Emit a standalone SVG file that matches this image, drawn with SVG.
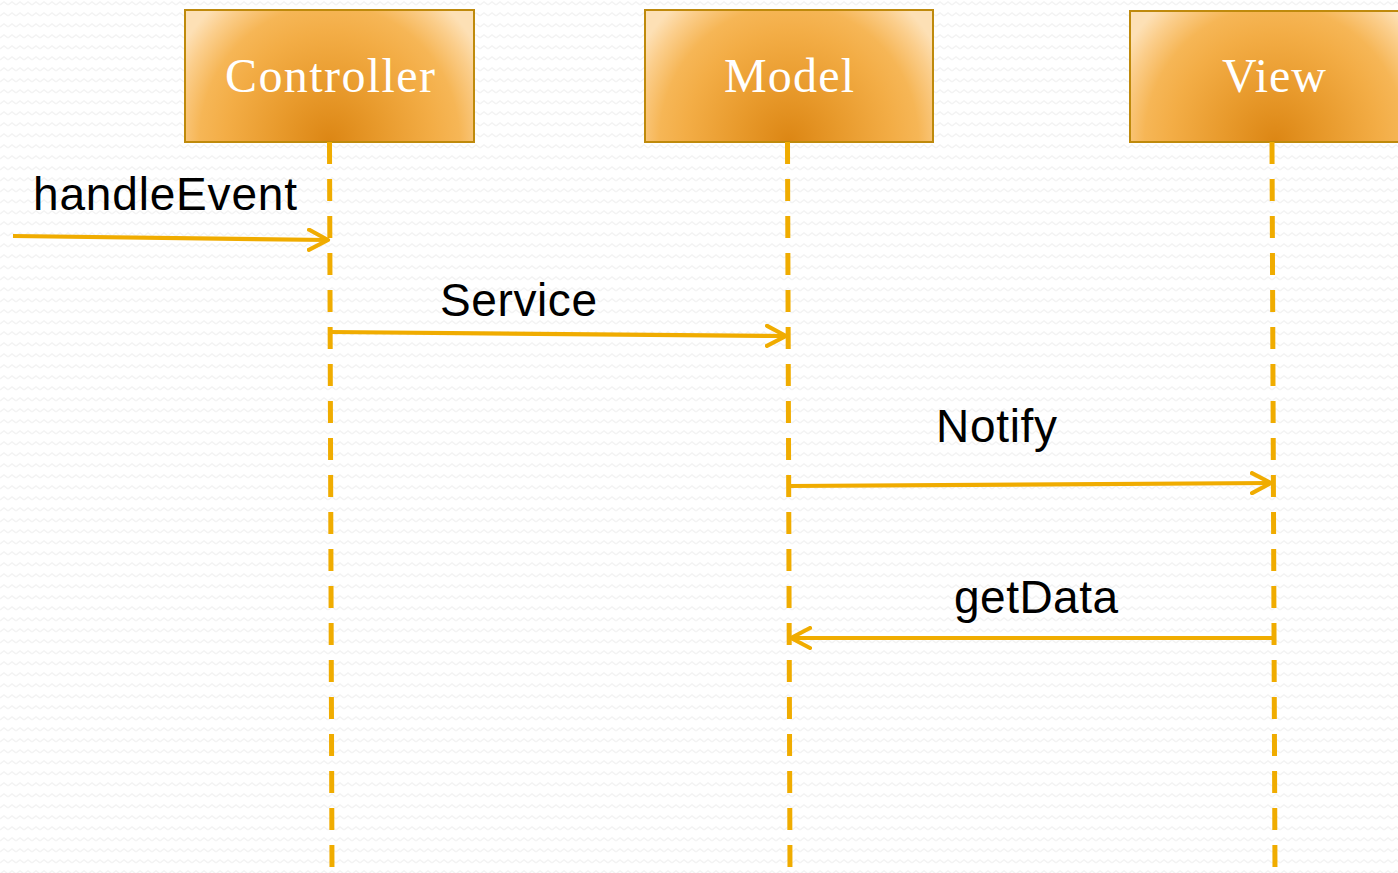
<svg xmlns="http://www.w3.org/2000/svg" width="1398" height="873" viewBox="0 0 1398 873">
  <defs>
    <pattern id="zigzag" width="8" height="11" patternUnits="userSpaceOnUse">
      <path d="M0 5 L4 2 L8 5" fill="none" stroke="#f3f3f3" stroke-width="1.5"/>
    </pattern>
    <!-- warm glow rising from the bottom centre of each header box -->
    <radialGradient id="boxFill" cx="0.5" cy="1" r="0.6" fx="0.5" fy="1"
                    gradientTransform="translate(0 1) scale(1 2.3) translate(0 -1)">
      <stop offset="0" stop-color="#dc8614"/>
      <stop offset="0.3" stop-color="#e89a2c"/>
      <stop offset="0.6" stop-color="#f3ad46"/>
      <stop offset="0.75" stop-color="#f6b656"/>
      <stop offset="0.9" stop-color="#fbce8c"/>
      <stop offset="1" stop-color="#fde0b5"/>
    </radialGradient>
    <marker id="open" viewBox="0 0 24 24" refX="21" refY="12" markerWidth="24" markerHeight="24" markerUnits="userSpaceOnUse" orient="auto">
      <path d="M2 2 L21 12 L2 22" fill="none" stroke="#f0ac00" stroke-width="4.2" stroke-linecap="round" stroke-linejoin="round"/>
    </marker>
  </defs>
  <style>
    .box { fill: url(#boxFill); stroke: #bf8a0c; stroke-width: 2; }
    .title { font-family: "Liberation Serif", serif; font-size: 48px; fill: #ffffff; text-anchor: middle; }
    .life { stroke: #f0ac00; stroke-width: 5; stroke-dasharray: 22 15; fill: none; }
    .msg { stroke: #f0ac00; stroke-width: 4.2; fill: none; marker-end: url(#open); }
    .label { font-family: "Liberation Sans", Arial, sans-serif; font-size: 46px; fill: #000000; }
  </style>

  <rect width="1398" height="873" fill="#ffffff"/>
  <rect width="1398" height="873" fill="url(#zigzag)"/>

  <g id="controller">
    <rect class="box" x="185" y="10" width="289" height="132"/>
    <text class="title" x="330" y="92" textLength="210">Controller</text>
  </g>
  <g id="model">
    <rect class="box" x="645" y="10" width="288" height="132"/>
    <text class="title" x="789" y="92" textLength="130">Model</text>
  </g>
  <g id="view">
    <rect class="box" x="1130" y="11" width="290" height="131"/>
    <text class="title" x="1274" y="92" textLength="104">View</text>
  </g>

  <g id="lifelines">
    <line class="life" x1="329.5" y1="142" x2="332" y2="873"/>
    <line class="life" x1="787.5" y1="142" x2="790" y2="873"/>
    <line class="life" x1="1272" y1="142" x2="1275" y2="873"/>
  </g>

  <g id="connectors">
    <line class="msg" x1="13" y1="236" x2="328" y2="240"/>
    <line class="msg" x1="330" y1="332" x2="786" y2="336"/>
    <line class="msg" x1="789" y1="486" x2="1271" y2="483"/>
    <line class="msg" x1="1274" y1="638" x2="791" y2="638"/>
  </g>

  <g id="labels">
    <text class="label" x="33" y="210" textLength="264">handleEvent</text>
    <text class="label" x="440" y="316" textLength="157">Service</text>
    <text class="label" x="936" y="442" textLength="121">Notify</text>
    <text class="label" x="954" y="613" textLength="164">getData</text>
  </g>
</svg>
